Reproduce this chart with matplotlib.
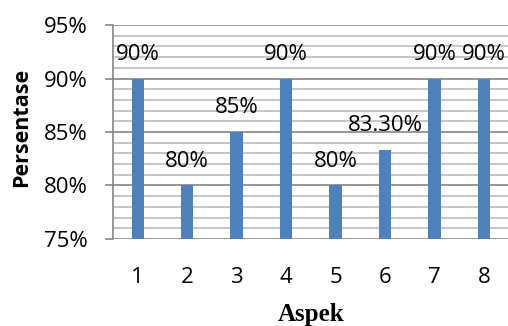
import numpy as np
import matplotlib.pyplot as plt
from matplotlib.ticker import MultipleLocator, FuncFormatter

# scores per aspect, in percent
aspek = [1, 2, 3, 4, 5, 6, 7, 8]
persentase = [90, 80, 85, 90, 80, 83.3, 90, 90]

barColor = '#4F81BD'
sans = 'Open Sans'
fs = 16

def pctLabel(v):
    return "{:.0f}%".format(v) if float(v).is_integer() else "{:.2f}%".format(v)

fig = plt.figure(figsize=(5.08, 3.26), dpi=100)
ax = fig.add_axes([0.2224, 0.2669, 0.7786, 0.6564])

x = np.array(aspek)
ax.bar(x, persentase, width=0.25, color=barColor, zorder=3)

for xi, v in zip(x, persentase):
    ax.annotate(pctLabel(v), (xi, v), xytext=(0, 10), textcoords='offset points',
                ha='center', va='bottom', fontsize=fs, family=sans, color='black', zorder=4)

ax.set_xlim(0.5, 8.5)
ax.set_ylim(75, 95)
ax.yaxis.set_major_locator(MultipleLocator(5))
ax.yaxis.set_minor_locator(MultipleLocator(1))
ax.yaxis.set_major_formatter(FuncFormatter(lambda v, p: "{:.0f}%".format(v)))
ax.set_xticks(x)
ax.set_xticklabels([str(a) for a in aspek])

ax.grid(axis='y', which='major', color='#858585', linewidth=1.2, zorder=0)
ax.grid(axis='y', which='minor', color='#bdbdbd', linewidth=1.2, zorder=0)
ax.set_axisbelow(True)

for side in ['top', 'right', 'bottom']:
    ax.spines[side].set_visible(False)
ax.spines['left'].set_color('#858585')
ax.spines['left'].set_linewidth(1.2)

ax.tick_params(axis='y', which='major', length=6, width=1.2, color='#858585', pad=12,
               labelsize=fs)
ax.tick_params(axis='y', which='minor', length=0)
ax.tick_params(axis='x', length=0, pad=20, labelsize=fs)
for lbl in ax.get_xticklabels() + ax.get_yticklabels():
    lbl.set_family(sans)

ax.set_ylabel('Persentase', family=sans, fontweight='bold', fontsize=15.5)
ax.yaxis.set_label_coords(-0.205, 0.52)
ax.set_xlabel('Aspek', family='Liberation Serif', fontweight='bold', fontsize=18, labelpad=11)

fig.savefig('out.png', dpi=100)
